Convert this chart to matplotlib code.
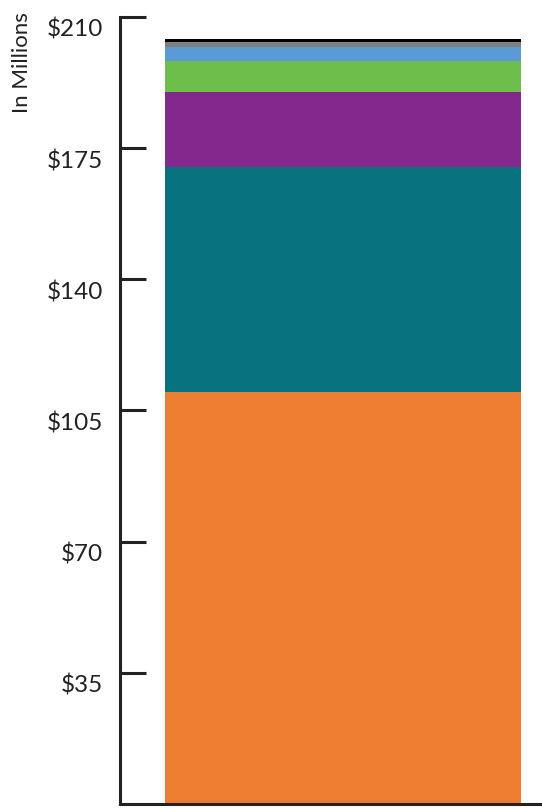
import matplotlib.pyplot as plt
from matplotlib.transforms import ScaledTranslation

# stacked segments, bottom to top (in millions)
segments = [110.0, 60.0, 20.0, 8.3, 3.7, 1.25, 0.8]
colors = ['#ED7D31', '#08737F', '#83298E', '#6DBE4B', '#5B9BD5', '#7F7F7F', '#000000']
ticks = [35, 70, 105, 140, 175, 210]
tick_labels = ['$35', '$70', '$105', '$140', '$175', '$210']

plt.rcParams['font.family'] = ['Lato', 'DejaVu Sans']

fig = plt.figure(figsize=(5.42, 8.08), dpi=100)
ax = fig.add_axes([120 / 542, 4 / 808, 422 / 542, 787 / 808])

bottom = 0
for val, col in zip(segments, colors):
    ax.bar(0, val, width=1, bottom=bottom, color=col, align='edge', linewidth=0)
    bottom += val

ax.set_xlim(-0.126, 1.059)
ax.set_ylim(0, 210)
ax.set_xticks([])
ax.set_yticks(ticks)
ax.set_yticklabels(tick_labels, fontsize=17.5, color='#222222')
ax.tick_params(axis='y', direction='in', length=19, width=2.2, color='#222222', pad=12)
for side in ['top', 'right']:
    ax.spines[side].set_visible(False)
for side in ['left', 'bottom']:
    ax.spines[side].set_linewidth(2.2)
    ax.spines[side].set_color('#222222')

# labels sit a little below their ticks
shift = ScaledTranslation(0, -0.11, fig.dpi_scale_trans)
for lab in ax.get_yticklabels():
    lab.set_transform(lab.get_transform() + shift)

fig.text(22 / 542, 1 - 63 / 808, 'In Millions', rotation=90, ha='center', va='center',
         fontsize=16, color='#222222')

fig.savefig('out.png', dpi=100)
